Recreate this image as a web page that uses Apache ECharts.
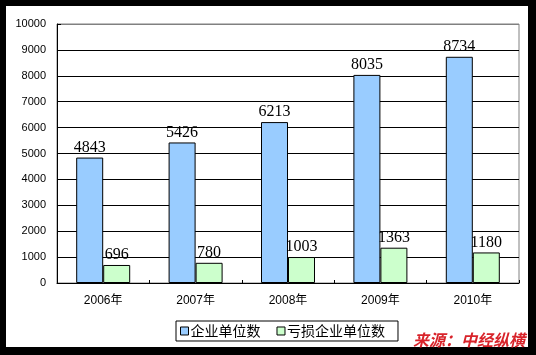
<!DOCTYPE html>
<html>
<head>
<meta charset="utf-8">
<script src="https://cdn.jsdelivr.net/npm/echarts@6/dist/echarts.min.js"></script>
<style>
html,body{margin:0;padding:0;background:#000;}
#wrap{position:relative;width:536px;height:355px;background:#000;overflow:hidden;}
#paper{position:absolute;left:6px;top:6px;width:522px;height:341px;background:#fff;}
#chart{position:absolute;left:0;top:0;width:536px;height:355px;}
</style>
</head>
<body>
<div id="wrap"><div id="paper"></div><div id="chart"></div></div>
<script>
const categories = ['2006年', '2007年', '2008年', '2009年', '2010年'];
const enterprises = [4843, 5426, 6213, 8035, 8734];
const lossMaking = [696, 780, 1003, 1363, 1180];
const seriesNames = ['企业单位数', '亏损企业单位数'];
const yTicks = { min: 0, max: 10000, interval: 1000 };
const sourceText = '来源：中经纵横';

const chart = echarts.init(document.getElementById('chart'), null, { renderer: 'canvas' });
const sans = "'Liberation Sans','Noto Sans CJK SC',sans-serif";
const cjk = "'Noto Sans CJK SC',sans-serif";
const splitColors = [];
for (let v = yTicks.min; v <= yTicks.max; v += yTicks.interval) {
  splitColors.push(v === yTicks.max ? '#808080' : '#000000');
}
const labelStyle = {
  show: true,
  position: 'top',
  distance: 2,
  color: '#000',
  fontFamily: "'Liberation Serif','DejaVu Serif',serif",
  fontSize: 16
};
chart.setOption({
  animation: false,
  backgroundColor: 'transparent',
  grid: {
    left: 57, top: 24, right: 17, bottom: 72,
    show: true, borderColor: '#808080', borderWidth: 1, backgroundColor: 'transparent'
  },
  legend: {
    data: seriesNames,
    left: 176, top: 321,
    orient: 'horizontal',
    itemWidth: 8, itemHeight: 8,
    itemGap: 16,
    padding: [3, 13, 3, 4],
    borderColor: '#000', borderWidth: 1,
    backgroundColor: '#fff',
    icon: 'rect',
    itemStyle: { borderColor: '#000', borderWidth: 1 },
    textStyle: { fontFamily: cjk, fontSize: 14, color: '#000', padding: [0, 0, 0, -3] }
  },
  xAxis: {
    type: 'category',
    data: categories,
    axisLine: { lineStyle: { color: '#000', width: 1 } },
    axisTick: { show: true, inside: true, length: 3, lineStyle: { color: '#000' } },
    axisLabel: { color: '#000', fontFamily: sans, fontSize: 12, margin: 12 },
    splitLine: { show: false }
  },
  yAxis: {
    type: 'value',
    min: yTicks.min, max: yTicks.max, interval: yTicks.interval,
    axisLine: { show: true, lineStyle: { color: '#000', width: 1 } },
    axisTick: { show: true, inside: true, length: 4, lineStyle: { color: '#000' } },
    axisLabel: { color: '#000', fontFamily: sans, fontSize: 11, margin: 11, formatter: v => String(v) },
    splitLine: { show: true, lineStyle: { color: splitColors, width: 1 } }
  },
  series: [
    {
      name: seriesNames[0], type: 'bar', data: enterprises,
      barWidth: 27, barGap: '0%',
      itemStyle: { color: '#99CCFF', borderColor: '#000', borderWidth: 1 },
      label: labelStyle
    },
    {
      name: seriesNames[1], type: 'bar', data: lossMaking,
      barWidth: 27, barGap: '0%',
      itemStyle: { color: '#CCFFCC', borderColor: '#000', borderWidth: 1 },
      label: labelStyle
    }
  ],
  graphic: [
    {
      type: 'text', left: 413, top: 332, z: 100,
      style: {
        text: sourceText,
        fill: '#d8232a',
        font: "italic bold 16px 'Noto Sans CJK SC', sans-serif",
        shadowColor: 'rgba(60,60,60,0.8)', shadowBlur: 1, shadowOffsetX: 1, shadowOffsetY: 1
      }
    }
  ]
});
</script>
</body>
</html>
